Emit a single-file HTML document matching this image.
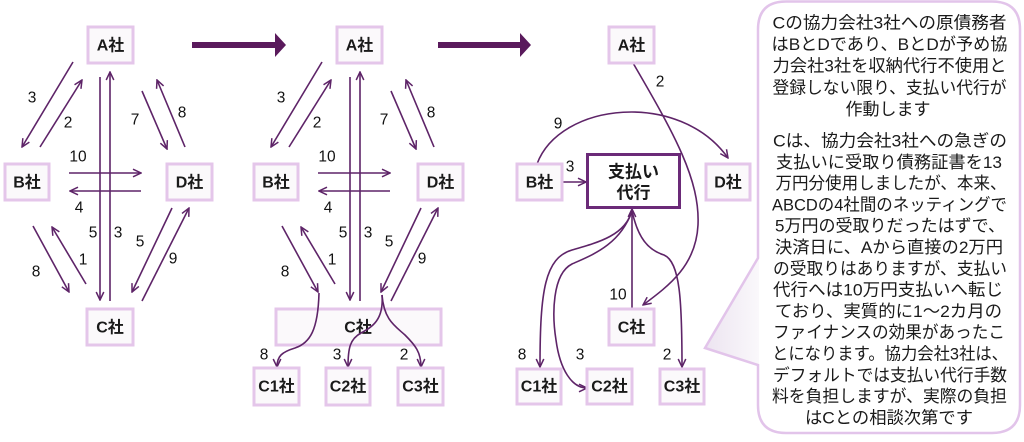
<!DOCTYPE html>
<html><head><meta charset="utf-8">
<style>
html,body{margin:0;padding:0;background:#fff;}
svg{display:block;}
.n{fill:#fbf9fb;stroke:#e4c6ea;stroke-width:3;}
.nt{font-family:"Liberation Sans","Noto Sans CJK JP",sans-serif;font-weight:bold;font-size:16px;fill:#1a1a1a;text-anchor:middle;dominant-baseline:central;}
.l{font-family:"Liberation Sans","Noto Sans CJK JP",sans-serif;font-size:15.5px;fill:#111;text-anchor:middle;dominant-baseline:central;}
.e{fill:none;stroke:#5e2468;stroke-width:1.6;marker-end:url(#ah);}
.bt{font-family:"Liberation Sans","Noto Sans CJK JP",sans-serif;font-size:17px;fill:#1a1a1a;text-anchor:middle;}
</style></head>
<body>
<svg width="1024" height="442" viewBox="0 0 1024 442" xmlns="http://www.w3.org/2000/svg">
<defs>
<marker id="ah" viewBox="0 0 10 10" refX="9" refY="5" markerWidth="10" markerHeight="10" markerUnits="userSpaceOnUse" orient="auto">
<path d="M1,1.2 L9,5 L1,8.8" fill="none" stroke="#5e2468" stroke-width="1.5"/>
</marker>
<linearGradient id="tg" x1="0" y1="0" x2="1" y2="0">
<stop offset="0" stop-color="#ece4f0"/><stop offset="1" stop-color="#faf8fb"/>
</linearGradient>
</defs>

<!-- big arrows -->
<rect x="192" y="42" width="84" height="6" fill="#5a1a5c"/>
<polygon points="275,33 286,45 275,57" fill="#5a1a5c"/>
<rect x="438" y="42" width="83" height="6" fill="#5a1a5c"/>
<polygon points="520,33 531,45 520,57" fill="#5a1a5c"/>

<!-- ===== Diagram 1 ===== -->
<path class="e" d="M73,62 L22,147"/>
<path class="e" d="M40,147 L82,80"/>
<path class="e" d="M100,77 L100,300"/>
<path class="e" d="M110,301 L110,72"/>
<path class="e" d="M142,91 L167,149"/>
<path class="e" d="M185,147 L157,80"/>
<path class="e" d="M69,173 L141,173"/>
<path class="e" d="M141,191 L70,191"/>
<path class="e" d="M33,226 L69,292"/>
<path class="e" d="M86,284 L52,227"/>
<path class="e" d="M172,208 L132,292"/>
<path class="e" d="M142,301 L189,208"/>
<text class="l" x="32" y="98">3</text>
<text class="l" x="68" y="123">2</text>
<text class="l" x="93" y="233">5</text>
<text class="l" x="118" y="233">3</text>
<text class="l" x="135" y="120">7</text>
<text class="l" x="182" y="113">8</text>
<text class="l" x="78" y="157">10</text>
<text class="l" x="79" y="208">4</text>
<text class="l" x="36" y="272">8</text>
<text class="l" x="83" y="260">1</text>
<text class="l" x="140" y="242">5</text>
<text class="l" x="173" y="259">9</text>

<rect class="n" x="88" y="27" width="45" height="36"/><text class="nt" x="110.5" y="46">A社</text>
<rect class="n" x="5" y="164" width="44" height="36"/><text class="nt" x="27" y="183">B社</text>
<rect class="n" x="167" y="164" width="45" height="36"/><text class="nt" x="189.5" y="183">D社</text>
<rect class="n" x="87" y="309" width="46" height="36"/><text class="nt" x="110" y="328">C社</text>

<!-- ===== Diagram 2 ===== -->
<path class="e" d="M322,62 L271,147"/>
<path class="e" d="M289,147 L331,80"/>
<path class="e" d="M350,77 L350,300"/>
<path class="e" d="M360,301 L360,72"/>
<path class="e" d="M391,91 L416,149"/>
<path class="e" d="M434,147 L406,80"/>
<path class="e" d="M318,173 L390,173"/>
<path class="e" d="M390,191 L319,191"/>
<path class="e" d="M282,226 L318,292"/>
<path class="e" d="M335,284 L301,227"/>
<path class="e" d="M421,208 L381,292"/>
<path class="e" d="M391,301 L438,208"/>
<text class="l" x="281" y="98">3</text>
<text class="l" x="317" y="123">2</text>
<text class="l" x="343" y="233">5</text>
<text class="l" x="368" y="233">3</text>
<text class="l" x="384" y="120">7</text>
<text class="l" x="431" y="113">8</text>
<text class="l" x="327" y="157">10</text>
<text class="l" x="328" y="208">4</text>
<text class="l" x="285" y="272">8</text>
<text class="l" x="332" y="260">1</text>
<text class="l" x="389" y="242">5</text>
<text class="l" x="422" y="259">9</text>

<rect class="n" x="337" y="27" width="45" height="36"/><text class="nt" x="359.5" y="46">A社</text>
<rect class="n" x="254" y="164" width="44" height="36"/><text class="nt" x="276" y="183">B社</text>
<rect class="n" x="418" y="164" width="45" height="36"/><text class="nt" x="440.5" y="183">D社</text>
<rect class="n" x="276" y="309" width="165" height="36"/><text class="nt" x="358" y="328">C社</text>

<path class="e" d="M319,293 C318,330 310,343 295,348 C282,352 277,356 277,367"/>
<path class="e" d="M382,295 C384,320 372,327 361,333 C350,339 348,348 348,367"/>
<path class="e" d="M382,295 C384,320 395,326 405,335 C415,345 421,352 421,367"/>
<text class="l" x="264" y="355">8</text>
<text class="l" x="337" y="355">3</text>
<text class="l" x="404" y="355">2</text>

<rect class="n" x="254" y="368" width="45" height="37"/><text class="nt" x="276.5" y="387">C1社</text>
<rect class="n" x="326" y="368" width="44" height="37"/><text class="nt" x="348" y="387">C2社</text>
<rect class="n" x="398" y="368" width="45" height="37"/><text class="nt" x="420.5" y="387">C3社</text>

<!-- ===== Diagram 3 ===== -->
<path class="e" d="M537,164 C560,102 680,90 728,158"/>
<path class="e" d="M633,63 C675,135 700,180 698,225 C696,265 670,285 643,305"/>
<path class="e" d="M562,182 L586,182"/>
<path class="e" d="M632,308 L632,209"/>
<path class="e" d="M632,211 C625,235 600,242 572,250 C545,258 540,290 540,367"/>
<path class="e" d="M632,211 C620,245 592,255 572,264 C552,274 552,315 556,340 C560,370 572,388 587,388"/>
<path class="e" d="M632,211 C638,238 648,250 664,255 C680,262 682,300 682,367"/>
<text class="l" x="660" y="82">2</text>
<text class="l" x="558" y="124">9</text>
<text class="l" x="570" y="167">3</text>
<text class="l" x="618" y="295">10</text>
<text class="l" x="522" y="355">8</text>
<text class="l" x="580" y="355">3</text>
<text class="l" x="667" y="355">2</text>

<rect class="n" x="609" y="27" width="45" height="36"/><text class="nt" x="631.5" y="46">A社</text>
<rect class="n" x="517" y="164" width="45" height="36"/><text class="nt" x="539.5" y="183">B社</text>
<rect class="n" x="706" y="164" width="44" height="36"/><text class="nt" x="728" y="183">D社</text>
<rect class="n" x="609" y="309" width="45" height="36"/><text class="nt" x="631.5" y="328">C社</text>
<rect x="587.5" y="154.5" width="92" height="53" fill="#fff" stroke="#6b2a78" stroke-width="3"/>
<text class="nt" x="633.5" y="172" style="font-size:17px">支払い</text>
<text class="nt" x="633.5" y="193" style="font-size:17px">代行</text>

<rect class="n" x="517" y="369" width="44" height="35"/><text class="nt" x="539" y="387">C1社</text>
<rect class="n" x="587" y="369" width="45" height="35"/><text class="nt" x="609.5" y="387">C2社</text>
<rect class="n" x="660" y="369" width="44" height="35"/><text class="nt" x="682" y="387">C3社</text>

<!-- ===== Speech bubble ===== -->
<path d="M786,1.5 H992 Q1020,1.5 1020,29.5 V405 Q1020,433 992,433 H786 Q758,433 758,405 V365 L705,348 L758,258 V29.5 Q758,1.5 786,1.5 Z" fill="#fff"/>
<polygon points="759,258 705,348 759,365" fill="url(#tg)"/>
<path d="M786,1.5 H992 Q1020,1.5 1020,29.5 V405 Q1020,433 992,433 H786 Q758,433 758,405 V365 L705,348 L758,258 V29.5 Q758,1.5 786,1.5 Z" fill="none" stroke="#e2c4ea" stroke-width="2.5"/>

<text class="bt" x="889.5" y="28.5" textLength="234" lengthAdjust="spacingAndGlyphs">Cの協力会社3社への原債務者</text>
<text class="bt" x="889.5" y="50" textLength="236" lengthAdjust="spacingAndGlyphs">はBとDであり、BとDが予め協</text>
<text class="bt" x="889.5" y="71.7" textLength="234" lengthAdjust="spacingAndGlyphs">力会社3社を収納代行不使用と</text>
<text class="bt" x="889.5" y="93.3" textLength="234" lengthAdjust="spacingAndGlyphs">登録しない限り、支払い代行が</text>
<text class="bt" x="888" y="114.9">作動します</text>

<text class="bt" x="890" y="146.5" textLength="234" lengthAdjust="spacingAndGlyphs">Cは、協力会社3社への急ぎの</text>
<text class="bt" x="889" y="167.8" textLength="226" lengthAdjust="spacingAndGlyphs">支払いに受取り債務証書を13</text>
<text class="bt" x="891" y="189.1" textLength="231" lengthAdjust="spacingAndGlyphs">万円分使用しましたが、本来、</text>
<text class="bt" x="889.5" y="210.4" textLength="235" lengthAdjust="spacingAndGlyphs">ABCDの4社間のネッティングで</text>
<text class="bt" x="890" y="231.7" textLength="230" lengthAdjust="spacingAndGlyphs">5万円の受取りだったはずで、</text>
<text class="bt" x="889" y="253" textLength="228" lengthAdjust="spacingAndGlyphs">決済日に、Aから直接の2万円</text>
<text class="bt" x="890" y="274.3" textLength="234" lengthAdjust="spacingAndGlyphs">の受取りはありますが、支払い</text>
<text class="bt" x="888" y="295.6" textLength="230" lengthAdjust="spacingAndGlyphs">代行へは10万円支払いへ転じ</text>
<text class="bt" x="888.5" y="316.9" textLength="227" lengthAdjust="spacingAndGlyphs">ており、実質的に1～2カ月の</text>
<text class="bt" x="889" y="338.2" textLength="232" lengthAdjust="spacingAndGlyphs">ファイナンスの効果があったこ</text>
<text class="bt" x="890" y="359.5" textLength="236" lengthAdjust="spacingAndGlyphs">とになります。協力会社3社は、</text>
<text class="bt" x="890" y="380.8" textLength="234" lengthAdjust="spacingAndGlyphs">デフォルトでは支払い代行手数</text>
<text class="bt" x="889.5" y="402.1" textLength="235" lengthAdjust="spacingAndGlyphs">料を負担しますが、実際の負担</text>
<text class="bt" x="889" y="423.4" textLength="168" lengthAdjust="spacingAndGlyphs">はCとの相談次第です</text>
</svg>
</body></html>
